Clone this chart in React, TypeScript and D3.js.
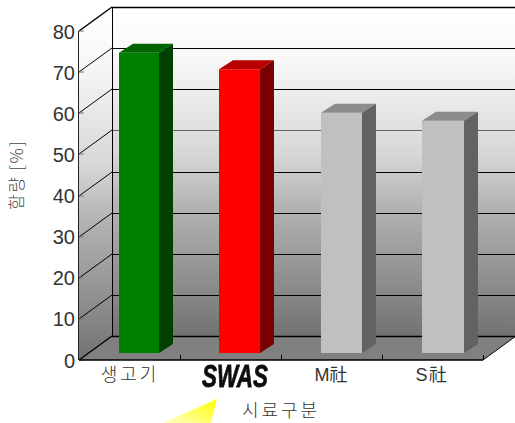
import React from "react";
import * as d3 from "d3";

const categories = ["생고기", "SWAS", "M社", "S社"];
const contents = [73, 69, 58.4, 56.5];
const faceColors = ["#008000", "#ff0000", "#c0c0c0", "#c0c0c0"];
const topColors = ["#006400", "#b80000", "#8c8c8c", "#8c8c8c"];
const sideColors = ["#004000", "#7a0000", "#626262", "#626262"];
const valueTicks = [0, 10, 20, 30, 40, 50, 60, 70, 80];
const barLeftEdges = [119, 219, 321, 422];
const barRightEdges = [159, 260, 362, 464];

const W = 515;
const H = 423;
const FRONT_LEFT = 79;
const FRONT_RIGHT = 483;
const DX = 33;
const DY = -24;
const BAR_DX = 14;
const BAR_DY = -9;
const BAR_BASE_LIFT = 7;
const KOREAN = "'Noto Sans CJK KR', sans-serif";

const y = d3.scaleLinear().domain([0, 80]).range([360, 31]);
const tickX = d3.scaleLinear().domain([0, 4]).range([FRONT_LEFT, FRONT_RIGHT]);

const pts = (list: number[][]) => list.map((p) => p.join(",")).join(" ");

export default function App() {
  const top = y(80);
  const base = y(0);
  return (
    <svg
      width={W}
      height={H}
      viewBox={`0 0 ${W} ${H}`}
      style={{ position: "absolute", left: 0, top: 0, background: "#fff" }}
      fontFamily="'Liberation Sans', Arial, sans-serif"
    >
      <defs>
        <linearGradient id="wall" x1="0" y1="0" x2="0" y2="1">
          <stop offset="0" stopColor="#ffffff" />
          <stop offset="0.15" stopColor="#f8f8f8" />
          <stop offset="0.3" stopColor="#e8e8e8" />
          <stop offset="0.45" stopColor="#d6d6d6" />
          <stop offset="0.6" stopColor="#b4b4b4" />
          <stop offset="0.8" stopColor="#949494" />
          <stop offset="1" stopColor="#727272" />
        </linearGradient>
        <linearGradient id="legendFill" x1="1" y1="0" x2="0" y2="1">
          <stop offset="0" stopColor="#ffff00" />
          <stop offset="1" stopColor="#ffffc8" />
        </linearGradient>
        <filter id="logoSoft" x="-5%" y="-5%" width="110%" height="110%">
          <feGaussianBlur stdDeviation="0.5" />
        </filter>
      </defs>

      {/* back wall, side wall and floor of the box */}
      <rect
        x={FRONT_LEFT + DX}
        y={top + DY}
        width={FRONT_RIGHT - FRONT_LEFT}
        height={base - top}
        fill="url(#wall)"
      />
      <polygon
        points={pts([
          [FRONT_LEFT, top],
          [FRONT_LEFT + DX, top + DY],
          [FRONT_LEFT + DX, base + DY],
          [FRONT_LEFT, base],
        ])}
        fill="url(#wall)"
      />
      <polygon
        points={pts([
          [FRONT_LEFT, base],
          [FRONT_LEFT + DX, base + DY],
          [FRONT_RIGHT + DX, base + DY],
          [FRONT_RIGHT, base],
        ])}
        fill="#808080"
      />

      {/* gridlines running along the side wall and across the back */}
      {valueTicks.map((t) => {
        const edge = t === 0 || t === 80;
        const ly = Math.round(y(t));
        return (
          <g key={t} fill="none">
            <line
              x1={FRONT_LEFT}
              y1={ly}
              x2={FRONT_LEFT + DX}
              y2={ly + DY}
              stroke="#000"
              strokeWidth={edge ? 1.4 : 1}
            />
            <line
              x1={FRONT_LEFT + DX}
              x2={FRONT_RIGHT + DX}
              y1={ly + DY + 0.5}
              y2={ly + DY + 0.5}
              stroke={t === 50 ? "#666" : "#000"}
              strokeWidth={edge ? 1.5 : 1}
            />
            <line x1={FRONT_LEFT} x2={FRONT_LEFT + 5} y1={ly} y2={ly} stroke="#777" strokeWidth={1} />
          </g>
        );
      })}
      <line x1={FRONT_LEFT + DX + 0.5} x2={FRONT_LEFT + DX + 0.5} y1={top + DY} y2={base + DY} stroke="#000" />
      <line x1={FRONT_LEFT - 0.5} x2={FRONT_LEFT - 0.5} y1={top} y2={base} stroke="#222" />
      <line x1={FRONT_LEFT} x2={FRONT_RIGHT} y1={base} y2={base} stroke="#000" strokeWidth={1.5} />
      <line x1={FRONT_RIGHT} x2={FRONT_RIGHT + DX} y1={base} y2={base + DY} stroke="#000" strokeWidth={1} />
      {[1, 2, 3, 4].map((i) => (
        <line
          key={i}
          x1={tickX(i) + 0.5}
          x2={tickX(i) + 0.5}
          y1={base}
          y2={base - 5}
          stroke="#000"
        />
      ))}

      {/* bars */}
      {contents.map((v, i) => {
        const x0 = barLeftEdges[i];
        const x1 = barRightEdges[i];
        const bottom = base - BAR_BASE_LIFT;
        const tp = y(v) - BAR_BASE_LIFT;
        return (
          <g key={categories[i]}>
            <rect x={x0} y={tp} width={x1 - x0} height={bottom - tp} fill={faceColors[i]} />
            <polygon
              points={pts([
                [x0, tp],
                [x0 + BAR_DX, tp + BAR_DY],
                [x1 + BAR_DX, tp + BAR_DY],
                [x1, tp],
              ])}
              fill={topColors[i]}
            />
            <polygon
              points={pts([
                [x1, tp],
                [x1 + BAR_DX, tp + BAR_DY],
                [x1 + BAR_DX, bottom + BAR_DY],
                [x1, bottom],
              ])}
              fill={sideColors[i]}
            />
          </g>
        );
      })}

      {/* value axis labels */}
      {valueTicks.map((t) => (
        <text key={t} x={75} y={y(t) + 7.5} textAnchor="end" fontSize={20} fill="#333">
          {t}
        </text>
      ))}

      <text
        transform="translate(23,175) rotate(-90)"
        textAnchor="middle"
        fontSize={17}
        letterSpacing={1.5}
        fill="#444"
        fontFamily={KOREAN}
        fontWeight={300}
      >
        함량 [%]
      </text>

      {/* category labels */}
      <text x={130} y={381} textAnchor="middle" fontSize={18} letterSpacing={3} fill="#333" fontFamily={KOREAN} fontWeight={300}>
        {categories[0]}
      </text>
      <text
        x={235}
        y={387}
        textAnchor="middle"
        fontSize={31}
        fontWeight={700}
        fontStyle="italic"
        fill="#111"
        stroke="#111"
        strokeWidth={0.8}
        textLength={66}
        lengthAdjust="spacingAndGlyphs"
        filter="url(#logoSoft)"
      >
        {categories[1]}
      </text>
      <text x={331} y={381} textAnchor="middle" fontSize={18} fill="#333" fontFamily={`'Liberation Sans', ${KOREAN}`}>
        {categories[2]}
      </text>
      <text x={432} y={381} textAnchor="middle" fontSize={18} letterSpacing={1.5} fill="#333" fontFamily={`'Liberation Sans', ${KOREAN}`}>
        {categories[3]}
      </text>

      {/* category axis title and its yellow wedge */}
      <polygon points={pts([[163, 423], [217, 399], [211, 423]])} fill="url(#legendFill)" />
      <text x={281} y={417} textAnchor="middle" fontSize={18} letterSpacing={3} fill="#333" fontFamily={KOREAN} fontWeight={300}>
        시료구분
      </text>
    </svg>
  );
}
